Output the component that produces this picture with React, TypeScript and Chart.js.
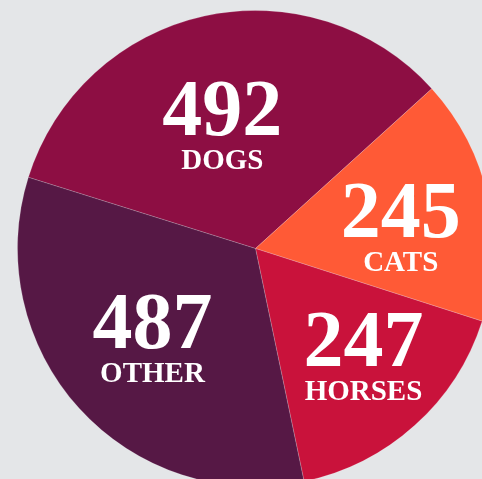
import React, { useEffect, useRef } from "react";
import { Chart, registerables } from "chart.js";

Chart.register(...registerables);

const categories = ["DOGS", "CATS", "HORSES", "OTHER"];
const counts = [492, 245, 247, 487];
const sliceColors = ["#8d0e43", "#ff5a36", "#c9123b", "#561845"];

// small per-slice label nudges (pixels), styling only
const labelNudges = [
  [-3, 16],
  [8, 10],
  [14, 5],
  [1, -3],
];

const labelPlugin = {
  id: "sliceLabels",
  afterDatasetsDraw(chart: any) {
    const ctx = chart.ctx;
    const meta = chart.getDatasetMeta(0);
    const data = chart.data.datasets[0].data as number[];
    const labels = chart.data.labels as string[];
    ctx.save();
    ctx.fillStyle = "#ffffff";
    ctx.textAlign = "center";
    ctx.textBaseline = "alphabetic";
    meta.data.forEach((arc: any, i: number) => {
      const { x, y, startAngle, endAngle, outerRadius } = arc.getProps(
        ["x", "y", "startAngle", "endAngle", "outerRadius"],
        true
      );
      const mid = (startAngle + endAngle) / 2;
      const d = outerRadius * 0.59;
      const cx = x + Math.cos(mid) * d + labelNudges[i][0];
      const cy = y + Math.sin(mid) * d + labelNudges[i][1];
      ctx.font = "bold 80px 'Liberation Serif', serif";
      ctx.fillText(String(data[i]), cx, cy + 8);
      ctx.font = "bold 29px 'Liberation Serif', serif";
      ctx.fillText(labels[i], cx, cy + 42);
    });
    ctx.restore();
  },
};

export default function App() {
  const canvasRef = useRef<HTMLCanvasElement | null>(null);

  useEffect(() => {
    if (!canvasRef.current) return;
    const chart = new Chart(canvasRef.current, {
      type: "pie",
      data: {
        labels: categories,
        datasets: [
          {
            data: counts,
            backgroundColor: sliceColors,
            borderColor: "rgba(255,255,255,0.18)",
            borderWidth: 1,
          },
        ],
      },
      options: {
        responsive: false,
        animation: false,
        rotation: -72.6,
        layout: { padding: 0 },
        plugins: {
          legend: { display: false },
          tooltip: { enabled: false },
        },
      },
      plugins: [labelPlugin],
    });
    return () => chart.destroy();
  }, []);

  return (
    <div
      style={{
        position: "fixed",
        left: 0,
        top: 0,
        width: 482,
        height: 479,
        overflow: "hidden",
        background: "#e4e6e8",
      }}
    >
      <canvas
        ref={canvasRef}
        width={477}
        height={477}
        style={{ position: "absolute", left: 17, top: 10, width: 477, height: 477 }}
      />
    </div>
  );
}
